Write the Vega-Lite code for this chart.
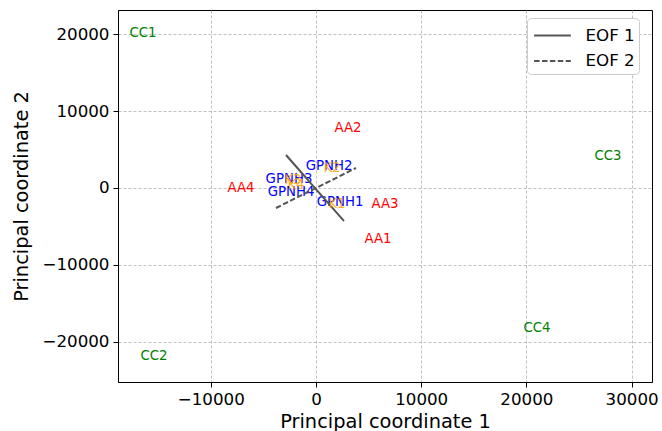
{
  "$schema": "https://vega.github.io/schema/vega-lite/v6.json",
  "width": 534,
  "height": 372,
  "autosize": "none",
  "padding": {"left": 118, "top": 10, "right": 10, "bottom": 49},
  "background": "white",
  "config": {
    "font": "DejaVu Sans",
    "view": {"stroke": "black", "strokeWidth": 1},
    "axis": {
      "labelFont": "DejaVu Sans",
      "titleFont": "DejaVu Sans",
      "labelFontSize": 16.7,
      "titleFontSize": 19.4,
      "titleFontWeight": "normal",
      "labelColor": "black",
      "titleColor": "black",
      "domainColor": "black",
      "tickColor": "black",
      "tickSize": 5,
      "labelPadding": 4,
      "gridColor": "#b0b0b0",
      "gridDash": [3, 2],
      "gridWidth": 0.8
    },
    "legend": {
      "labelFont": "DejaVu Sans",
      "labelFontSize": 16.7,
      "labelColor": "black"
    }
  },
  "datasets": {
    "labels": [
      {"x": -16445, "y": 20130, "label": "CC1", "group": "CC"},
      {"x": -15400, "y": -21820, "label": "CC2", "group": "CC"},
      {"x": 27760, "y": 4156, "label": "CC3", "group": "CC"},
      {"x": 21000, "y": -18180, "label": "CC4", "group": "CC"},
      {"x": 5894, "y": -6623, "label": "AA1", "group": "AA"},
      {"x": 3042, "y": 7792, "label": "AA2", "group": "AA"},
      {"x": 6560, "y": -2078, "label": "AA3", "group": "AA"},
      {"x": -7130, "y": 0, "label": "AA4", "group": "AA"},
      {"x": 2281, "y": -1818, "label": "GPNH1", "group": "GPNH"},
      {"x": 1236, "y": 2857, "label": "GPNH2", "group": "GPNH"},
      {"x": -2567, "y": 1169, "label": "GPNH3", "group": "GPNH"},
      {"x": -2376, "y": -519, "label": "GPNH4", "group": "GPNH"}
    ],
    "klabels": [
      {"x": 1996, "y": -2078, "label": "K1"},
      {"x": 1521, "y": 2597, "label": "K2"},
      {"x": -2186, "y": 1039, "label": "K3"},
      {"x": -1901, "y": 390, "label": "K4"}
    ],
    "eofs": [
      {"eof": "EOF 1", "x": -2852, "y": 4286},
      {"eof": "EOF 1", "x": 2662, "y": -4286},
      {"eof": "EOF 2", "x": -3802, "y": -2597},
      {"eof": "EOF 2", "x": 3802, "y": 2597}
    ]
  },
  "layer": [
    {
      "data": {"name": "labels"},
      "mark": {"type": "text", "fontSize": 13.3, "font": "DejaVu Sans", "align": "center", "baseline": "middle"},
      "encoding": {
        "x": {
          "field": "x", "type": "quantitative",
          "scale": {"domain": [-18820, 31940], "nice": false, "zero": false},
          "axis": {"values": [-10000, 0, 10000, 20000, 30000], "format": "d", "grid": true, "title": "Principal coordinate 1", "titlePadding": 5}
        },
        "y": {
          "field": "y", "type": "quantitative",
          "scale": {"domain": [-25195, 23117], "nice": false, "zero": false},
          "axis": {"values": [-20000, -10000, 0, 10000, 20000], "format": "d", "grid": true, "title": "Principal coordinate 2", "titlePadding": 10}
        },
        "text": {"field": "label"},
        "color": {
          "field": "group", "type": "nominal",
          "scale": {"domain": ["CC", "AA", "GPNH"], "range": ["green", "red", "blue"]},
          "legend": null
        }
      }
    },
    {
      "data": {"name": "eofs"},
      "mark": {"type": "line", "color": "#555555", "strokeWidth": 2},
      "encoding": {
        "x": {"field": "x", "type": "quantitative"},
        "y": {"field": "y", "type": "quantitative"},
        "detail": {"field": "eof"},
        "strokeDash": {
          "field": "eof", "type": "nominal",
          "scale": {"domain": ["EOF 1", "EOF 2"], "range": [[1, 0], [5.5, 2.4]]},
          "legend": {
            "title": null,
            "orient": "none",
            "legendX": 409,
            "legendY": 8,
            "symbolType": "M-0.85,0H2.15",
            "symbolSize": 600,
            "symbolStrokeColor": "#555555",
            "symbolStrokeWidth": 2,
            "fillColor": "white",
            "strokeColor": "#cccccc",
            "cornerRadius": 4,
            "padding": 4,
            "rowPadding": 2.5,
            "labelOffset": 27.5
          }
        }
      }
    },
    {
      "data": {"name": "klabels"},
      "mark": {"type": "text", "fontSize": 13.3, "font": "DejaVu Sans", "align": "center", "baseline": "middle", "color": "orange", "opacity": 0.85},
      "encoding": {
        "x": {"field": "x", "type": "quantitative"},
        "y": {"field": "y", "type": "quantitative"},
        "text": {"field": "label"}
      }
    }
  ]
}
